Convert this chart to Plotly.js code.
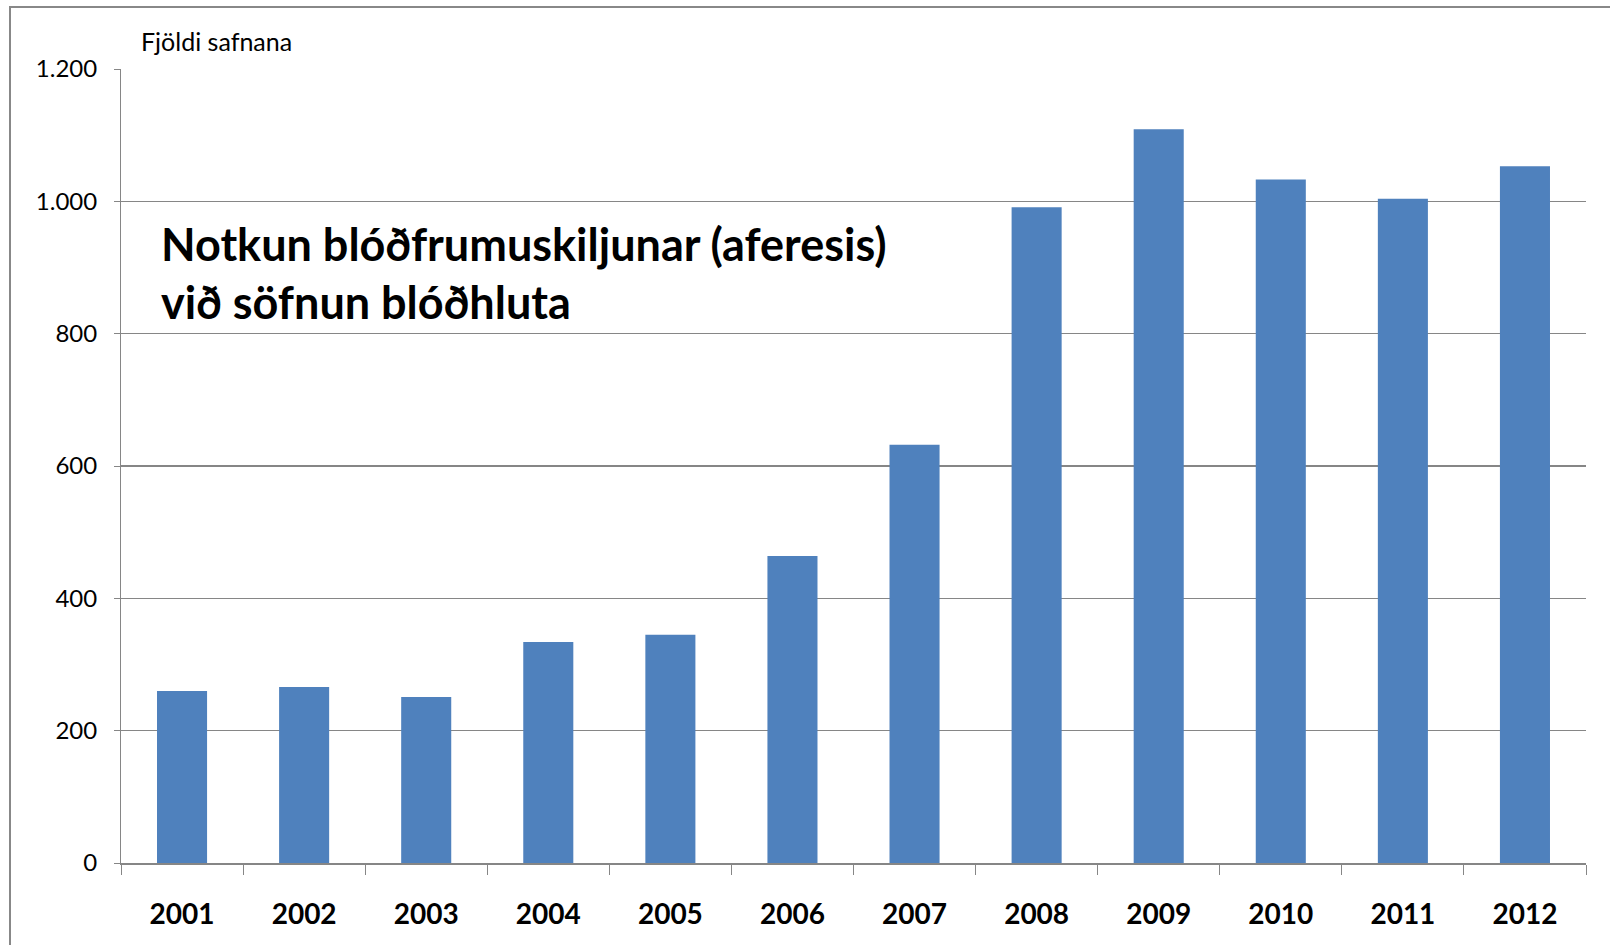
<!DOCTYPE html>
<html>
<head>
<meta charset="utf-8">
<script src="https://cdn.plot.ly/plotly-3.0.1.min.js"></script>
<style>
  body { margin: 0; background: #fff; }
  #chart { width: 1610px; height: 945px; }
  #frame { position: absolute; left: 9px; top: 6px; width: 1700px; height: 1000px;
           border-left: 2px solid #888; border-top: 2px solid #888; pointer-events: none; }
</style>
</head>
<body>
<div id="chart"></div>
<div id="frame"></div>
<script>
const years = ['2001', '2002', '2003', '2004', '2005', '2006', '2007', '2008', '2009', '2010', '2011', '2012'];
const collections = [260, 266, 251, 334, 345, 464, 632, 991, 1109, 1033, 1004, 1053];
const yLabel = 'Fjöldi safnana';
const headline = ['Notkun blóðfrumuskiljunar (aferesis)', 'við söfnun blóðhluta'];

const trace = {
    x: years,
    y: collections,
    type: 'bar',
    marker: { color: '#4f81bd' },
    hoverinfo: 'x+y'
};

const layout = {
    width: 1610,
    height: 945,
    margin: { l: 121, r: 24, t: 69, b: 82 },
    paper_bgcolor: '#fff',
    plot_bgcolor: '#fff',
    separators: ',.',
    bargap: 0.59,
    showlegend: false,
    font: { family: 'Lato, sans-serif', color: '#000' },
    xaxis: {
        type: 'category',
        showgrid: false,
        showline: true,
        linecolor: '#868686',
        linewidth: 2,
        ticks: 'outside',
        tickson: 'boundaries',
        ticklen: 10,
        tickcolor: '#868686',
        tickwidth: 1,
        ticklabelstandoff: 25,
        tickfont: { size: 28, family: 'Lato, sans-serif', weight: 'bold' }
    },
    yaxis: {
        range: [0, 1200],
        dtick: 200,
        tickformat: ',',
        showgrid: true,
        gridcolor: '#868686',
        gridwidth: 1.5,
        showline: true,
        linecolor: '#868686',
        linewidth: 1,
        ticks: 'outside',
        ticklen: 6,
        tickcolor: '#868686',
        ticklabelstandoff: 12,
        zeroline: false,
        tickfont: { size: 24 }
    },
    annotations: [
        {
            text: yLabel, xref: 'paper', yref: 'paper', x: 0.0123, y: 1.035,
            xanchor: 'left', yanchor: 'middle', showarrow: false,
            font: { size: 25 }
        },
        {
            text: headline[0], xref: 'paper', yref: 'paper', x: 0.026, y: 0.779,
            xanchor: 'left', yanchor: 'middle', showarrow: false,
            font: { size: 45, weight: 'bold' }
        },
        {
            text: headline[1], xref: 'paper', yref: 'paper', x: 0.026, y: 0.706,
            xanchor: 'left', yanchor: 'middle', showarrow: false,
            font: { size: 45, weight: 'bold' }
        }
    ]
};

Plotly.newPlot('chart', [trace], layout, { displayModeBar: false, staticPlot: true });
</script>
</body>
</html>
